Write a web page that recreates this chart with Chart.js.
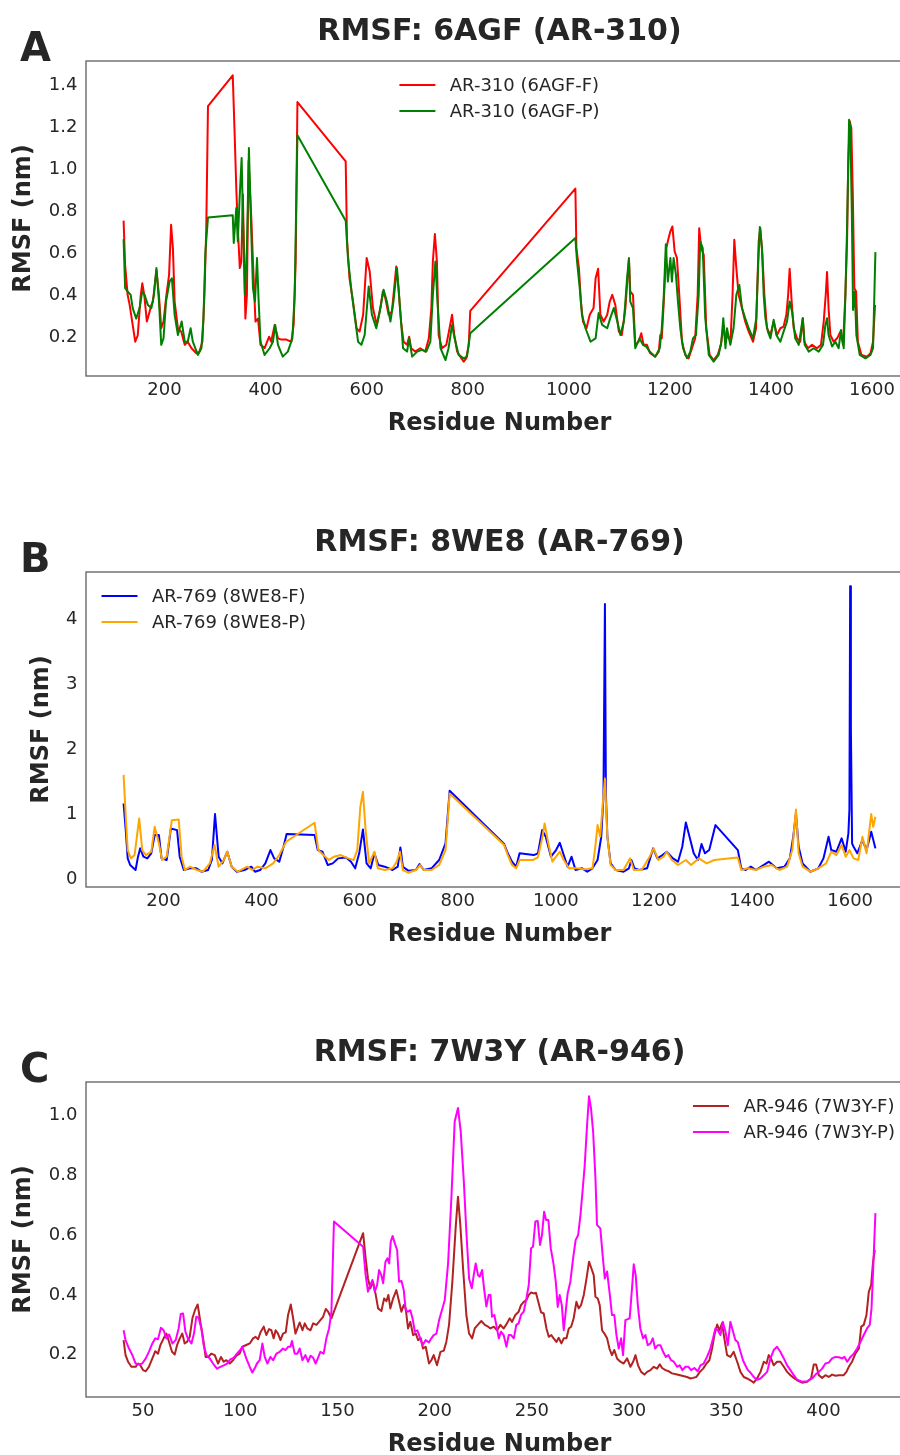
<!DOCTYPE html>
<html>
<head>
<meta charset="utf-8">
<script src="https://cdn.jsdelivr.net/npm/chart.js@4.4.0/dist/chart.umd.min.js"></script>
<style>
html, body { margin: 0; padding: 0; background: #fff; overflow: hidden; }
#page { position: relative; width: 900px; height: 1455px; overflow: hidden; }
canvas { position: absolute; left: 0; }
</style>
</head>
<body>
<div id="page">
  <canvas id="chartA" width="920" height="440" style="top:0px"></canvas>
  <canvas id="chartB" width="920" height="440" style="top:511px"></canvas>
  <canvas id="chartC" width="920" height="440" style="top:1021px"></canvas>
</div>
<script>
// ---- panel A: 6AGF (AR-310) ----
var resA_F = [119,122,127,131,137,142,147,153,156,160,165,169,174,177,184,189,193.5,198,203,209,213,216.6,220,226.5,233,240,246,253,263,269,275,279,282.6,286,335,339,342,345,349,352,355,360,363,366.4,372,375,380,385,390,398,407,411,418,424.5,431,441,451,455.5,459.5,463,558.5,561,566,573,580,586,593,600,606,612.4,620,627,632,637,643.4,650,658.6,663,668,673,680,684,688,696,706,716,723,728,731,735,739,742.4,749,757.6,764,769,773.4,779,785.3,792,797,802,805,1013,1015,1020,1024,1028,1035,1041.4,1049,1053,1058,1062.5,1069,1076,1081,1086,1092,1099,1105,1112,1119,1121.6,1127,1131.5,1138,1143.4,1148,1154.6,1161,1171,1178,1181,1184,1188,1193,1197.5,1201,1205,1209.4,1214,1218.6,1224,1230.5,1237,1243.7,1250,1255,1258,1262,1267,1272,1278.7,1286.6,1294.5,1301,1306,1310,1314.3,1320,1324,1327.5,1331.5,1336,1342.7,1349,1356,1364.5,1370.5,1375.7,1379,1383,1387,1392,1399,1405.4,1412,1418.6,1425,1430.5,1434,1437,1441,1445,1451.6,1458,1463,1466,1473,1481.3,1491,1499,1504.4,1508.4,1511,1514,1517.6,1524,1531,1537.4,1542.7,1547.3,1550.6,1553,1556,1559,1562,1565,1568.5,1572,1579,1590,1597,1602,1606];
var rmsfA_F = [0.756,0.546,0.403,0.355,0.26,0.18,0.21,0.403,0.458,0.40,0.276,0.31,0.355,0.37,0.52,0.40,0.244,0.276,0.387,0.498,0.736,0.625,0.371,0.244,0.228,0.165,0.18,0.15,0.125,0.133,0.18,0.403,0.72,1.30,1.447,1.149,0.91,0.72,0.53,0.56,0.88,0.29,0.403,1.04,0.752,0.56,0.276,0.29,0.165,0.15,0.204,0.18,0.26,0.196,0.19,0.19,0.18,0.26,0.56,1.32,1.038,0.67,0.482,0.371,0.244,0.228,0.308,0.578,0.514,0.34,0.26,0.34,0.419,0.387,0.308,0.324,0.538,0.435,0.276,0.18,0.165,0.204,0.149,0.133,0.149,0.133,0.196,0.34,0.562,0.692,0.562,0.212,0.149,0.165,0.244,0.308,0.212,0.133,0.109,0.085,0.101,0.165,0.327,0.908,0.625,0.53,0.371,0.276,0.244,0.308,0.34,0.482,0.527,0.308,0.276,0.308,0.371,0.403,0.355,0.228,0.212,0.34,0.578,0.419,0.403,0.165,0.18,0.22,0.165,0.165,0.125,0.109,0.133,0.212,0.196,0.371,0.625,0.673,0.705,0.728,0.61,0.578,0.403,0.18,0.117,0.101,0.149,0.196,0.403,0.72,0.625,0.593,0.244,0.117,0.093,0.117,0.165,0.26,0.18,0.212,0.18,0.403,0.665,0.53,0.403,0.34,0.276,0.228,0.18,0.244,0.657,0.72,0.593,0.403,0.244,0.212,0.276,0.212,0.244,0.252,0.308,0.403,0.527,0.371,0.244,0.196,0.18,0.292,0.18,0.149,0.165,0.149,0.165,0.276,0.403,0.511,0.34,0.212,0.18,0.196,0.228,0.165,0.403,0.657,1.038,1.228,1.197,0.879,0.435,0.419,0.18,0.117,0.109,0.125,0.18,0.355];
var resA_P = [119,122,127,133,137,144,150.6,156,160.5,167,174,179,184,189,193.5,198,203,210,214.6,220,226.5,234,240,246,251.6,256,266,273,277,281,286,335,337,342,345,348.6,352.6,355,359,363,367,371,375,379,383,386,390,398,408,414.6,419,424.5,434,444,453,457.5,463,558.5,563,570,576,583,589.5,596,604,610.4,619,626,633.5,640,647,653,660,667,672,680,684,690,700,709.4,718,726,731,736,740,746,756,762,769,774,782,792,798.5,805,1013,1016.3,1021.6,1026,1033,1043,1053,1059,1066,1076,1082,1089,1096,1102,1109,1115.3,1119,1121.6,1127,1131.5,1140,1146.7,1153,1160,1171,1180,1184,1188,1192,1196,1201,1204,1207.4,1212,1216,1220.6,1226,1234,1240.4,1245.7,1251.6,1257,1260,1265,1270,1277,1286.6,1296.5,1301.8,1305.7,1310,1313,1319.6,1326,1331.5,1337.4,1342.7,1349,1356,1364.5,1371,1375,1378,1382.3,1385.6,1389,1394,1399,1405.4,1410.7,1418.6,1425,1431.8,1437,1441.7,1448,1455,1463,1466.8,1474.7,1484.6,1494.5,1503,1507.7,1511,1514,1521,1527.5,1534,1538.7,1544,1547.3,1550.6,1554.6,1557,1560,1562.5,1566,1569,1575.7,1587,1597,1602,1606.7];
var rmsfA_P = [0.668,0.435,0.419,0.403,0.34,0.29,0.34,0.419,0.403,0.355,0.34,0.403,0.53,0.371,0.165,0.196,0.371,0.466,0.482,0.308,0.212,0.276,0.18,0.18,0.244,0.18,0.117,0.149,0.29,0.61,0.771,0.781,0.65,0.816,0.657,0.863,1.054,0.784,0.403,0.625,1.101,0.752,0.435,0.371,0.578,0.387,0.18,0.117,0.149,0.18,0.26,0.165,0.109,0.133,0.196,0.403,1.162,0.755,0.578,0.419,0.308,0.18,0.165,0.212,0.443,0.308,0.244,0.324,0.427,0.371,0.276,0.371,0.53,0.308,0.149,0.133,0.196,0.109,0.133,0.141,0.133,0.18,0.403,0.562,0.371,0.149,0.093,0.149,0.26,0.196,0.117,0.101,0.109,0.22,0.673,0.562,0.435,0.308,0.244,0.18,0.196,0.316,0.26,0.244,0.292,0.34,0.276,0.212,0.276,0.482,0.573,0.371,0.34,0.149,0.196,0.165,0.157,0.133,0.109,0.149,0.244,0.403,0.644,0.466,0.578,0.466,0.578,0.498,0.371,0.244,0.149,0.101,0.133,0.196,0.212,0.403,0.657,0.625,0.292,0.117,0.085,0.117,0.18,0.292,0.149,0.244,0.165,0.244,0.403,0.45,0.34,0.292,0.244,0.196,0.292,0.562,0.725,0.625,0.403,0.292,0.228,0.196,0.284,0.212,0.18,0.228,0.276,0.371,0.324,0.196,0.165,0.292,0.165,0.133,0.149,0.133,0.165,0.26,0.292,0.212,0.157,0.18,0.149,0.236,0.149,0.403,0.72,1.236,1.197,0.8,0.331,0.419,0.212,0.117,0.101,0.117,0.149,0.606];
var xTicksA = [200, 400, 600, 800, 1000, 1200, 1400, 1600];
var yTicksA = [0.2, 0.4, 0.6, 0.8, 1.0, 1.2, 1.4];

// ---- panel B: 8WE8 (AR-769) ----
var resB_F = [118.6,123,127,132,143,148,152.5,159,167,175,182,190.6,196,206.5,215,227.6,233,241.4,254,267,277.4,291,298.6,305,312.4,320,330,339,349.4,365,379,386.5,397,407.6,418,425.6,436,444.7,451,508,514.5,524,535,545,556,572,582.3,590.8,599,606.6,614,622.5,630,638,651,667,677.6,683,688,699,714.6,722,730.5,746.4,762,775,783.4,894.6,902,910.5,919,926,955,963.4,972,979.3,990,1000.4,1008,1016,1024,1032,1040,1053.4,1064,1074.6,1085,1092.5,1097,1100,1102,1105,1111.6,1122,1138,1149,1154,1160.3,1170,1186,1198.4,1207,1217.4,1226,1238.6,1249,1257.7,1265,1272.5,1281,1289.5,1297,1304,1312.7,1325.4,1371,1378,1387,1397.4,1408,1418.6,1434.5,1450,1466,1477,1484,1489.5,1495,1503,1519,1535,1545.6,1556,1561.5,1572,1582.6,1591,1596.4,1598.5,1600,1601.5,1604,1607,1614.5,1625,1633.5,1643,1651.5];
var rmsfB_F = [1.166,0.757,0.322,0.22,0.143,0.348,0.476,0.348,0.322,0.4,0.68,0.68,0.322,0.297,0.783,0.757,0.348,0.143,0.169,0.169,0.117,0.143,0.297,1.003,0.348,0.245,0.425,0.194,0.117,0.143,0.194,0.117,0.143,0.245,0.45,0.322,0.271,0.501,0.696,0.68,0.45,0.425,0.22,0.245,0.322,0.337,0.271,0.169,0.4,0.767,0.245,0.169,0.4,0.22,0.194,0.143,0.194,0.491,0.194,0.133,0.143,0.235,0.143,0.169,0.297,0.552,1.361,0.542,0.4,0.271,0.194,0.4,0.373,0.4,0.757,0.655,0.348,0.45,0.562,0.373,0.194,0.348,0.143,0.169,0.117,0.169,0.297,0.655,1.268,4.236,1.3,0.655,0.245,0.143,0.117,0.169,0.297,0.169,0.143,0.169,0.476,0.322,0.373,0.425,0.322,0.271,0.501,0.875,0.655,0.4,0.297,0.542,0.4,0.45,0.834,0.45,0.169,0.143,0.194,0.143,0.194,0.271,0.169,0.194,0.322,0.655,1.013,0.501,0.245,0.117,0.169,0.322,0.655,0.45,0.425,0.63,0.425,0.706,1.07,4.507,2.32,0.55,0.501,0.4,0.604,0.45,0.732,0.476];
var resB_P = [118.6,123,127,133.4,141,150.4,156.7,164,175,182,190.6,197,206.5,217,231,237,243.5,254,268,280.6,294.4,304,312.4,323,330,339,351.5,370.6,381,391.7,407.6,423.5,436,450,508,515.6,526,537,547.4,561,577,587.6,595,601.3,606.6,612,619.3,630,637,651,667,675.4,682,688,699,714.6,723,730.5,746.4,762,775,783.4,894.6,902,910.5,919,926,953,963.4,972,977,984.6,993,1000.4,1008,1016,1027,1043,1059,1074.6,1080,1085,1090.4,1095.7,1100,1105,1111.6,1122,1138,1151,1159,1175,1191,1199.4,1209,1219.6,1226,1236.5,1249,1265,1275.7,1291.6,1307.4,1323,1371,1378,1392,1408,1424,1440,1455.6,1471.5,1482,1489.5,1495,1503,1519,1535,1551,1561.5,1572,1582.6,1591,1598.5,1607,1616.6,1625,1633.5,1643,1647,1651.5];
var rmsfB_P = [1.606,0.962,0.45,0.322,0.373,0.936,0.45,0.373,0.425,0.808,0.552,0.297,0.348,0.91,0.92,0.348,0.143,0.194,0.143,0.117,0.245,0.527,0.194,0.297,0.425,0.194,0.117,0.194,0.143,0.194,0.169,0.245,0.373,0.578,0.87,0.45,0.373,0.297,0.348,0.373,0.322,0.297,0.45,1.115,1.345,0.757,0.245,0.425,0.169,0.143,0.169,0.271,0.425,0.143,0.102,0.143,0.22,0.143,0.143,0.22,0.45,1.32,0.527,0.373,0.22,0.169,0.297,0.297,0.337,0.63,0.859,0.552,0.271,0.348,0.425,0.297,0.169,0.169,0.153,0.169,0.476,0.834,0.655,1.166,1.55,0.655,0.22,0.143,0.143,0.322,0.143,0.143,0.348,0.476,0.297,0.348,0.425,0.297,0.22,0.297,0.22,0.322,0.245,0.297,0.337,0.143,0.169,0.143,0.194,0.22,0.143,0.194,0.45,1.074,0.4,0.194,0.117,0.169,0.245,0.425,0.373,0.527,0.348,0.45,0.322,0.297,0.655,0.4,1.003,0.808,0.962];
var xTicksB = [200, 400, 600, 800, 1000, 1200, 1400, 1600];
var yTicksB = [0, 1, 2, 3, 4];

// ---- panel C: 7W3Y (AR-946) ----
var resC_F = [40,41,42.3,44,46.2,47.4,48.6,50,51.4,53,54.8,56.3,57.7,58.9,60.6,62,63.4,64.9,66.3,67.5,68.9,70.2,71.4,72.6,74,75.4,76.7,78.1,79.5,80.9,82.2,83.6,85.1,86.9,88.6,90.1,91.5,92.9,94.6,96.3,98,99.7,101.1,102.8,104.9,106.6,107.9,109.2,110.4,112.1,113.4,114.8,116,117.2,118.2,119.4,120.7,122,123.4,124.6,126,127.2,128.4,129.4,130.6,132,133.2,134.5,136.1,137.5,139.2,140.9,142.6,144,145.2,146.9,163.2,164.5,165.7,166.9,168.3,169.7,170.9,172.6,174,175.2,176.2,177.2,178.6,180.3,181.5,182.9,184.1,185.1,186.3,187.5,188.9,190.3,191.5,192.9,194,195.4,197.1,198.3,199.5,201.2,203,204.7,206,207.4,209.1,210.9,212,213.2,214.6,216.3,217.7,219.3,220.6,222.3,224,225.8,227.5,228.7,230.4,232.1,233.8,235.5,237.2,238.6,239.8,241.5,243.2,244.4,245.8,247.2,248.4,249.6,251,252.1,253.5,254.7,256.1,257.5,258.7,260,261.2,262.6,263.8,265.2,266.4,267.8,269,270.2,271.5,272.9,274.1,275.3,276.7,278,279.4,280.6,281.8,282.7,283.9,284.9,286.1,287.3,288.7,289.9,291.2,292.4,293.8,295.5,297.2,299,300.7,302.1,303.3,304.6,306.2,307.9,309.3,311,312.7,314.4,315.8,317,318.7,320.4,322.1,324.7,327.3,329.8,331.6,332.9,334.6,336.4,338.1,339.8,341.3,342.7,343.9,345.3,346.5,347.8,349,350.4,352.1,353.8,355.6,357.3,359,360.7,362.4,364.1,365.8,367.6,369.3,370.7,371.8,373,374.4,376.1,377.8,379.6,381.3,383,384.7,386.4,389,391.6,393.6,395,396.2,397.6,399.3,401,402.7,404.4,406.2,407.9,410.4,411.8,413,414.7,416.4,418.2,419.4,420.7,422.1,423.3,424.5,425.5,426.4];
var rmsfC_F = [0.249,0.199,0.177,0.16,0.16,0.171,0.165,0.149,0.145,0.16,0.188,0.212,0.204,0.232,0.255,0.271,0.243,0.21,0.201,0.232,0.255,0.271,0.238,0.243,0.26,0.322,0.349,0.368,0.31,0.255,0.193,0.193,0.204,0.199,0.171,0.193,0.177,0.182,0.171,0.182,0.197,0.204,0.227,0.232,0.238,0.255,0.26,0.252,0.275,0.294,0.266,0.286,0.282,0.255,0.282,0.271,0.249,0.271,0.275,0.333,0.368,0.322,0.271,0.288,0.308,0.282,0.305,0.288,0.282,0.305,0.3,0.313,0.327,0.353,0.344,0.322,0.606,0.522,0.455,0.422,0.444,0.4,0.355,0.346,0.388,0.379,0.4,0.355,0.388,0.416,0.383,0.344,0.366,0.355,0.288,0.31,0.266,0.271,0.249,0.255,0.221,0.227,0.171,0.182,0.199,0.165,0.21,0.214,0.243,0.3,0.444,0.634,0.728,0.634,0.489,0.333,0.271,0.255,0.288,0.301,0.313,0.3,0.294,0.288,0.294,0.282,0.3,0.288,0.305,0.322,0.31,0.333,0.344,0.366,0.377,0.383,0.4,0.408,0.405,0.407,0.372,0.342,0.338,0.288,0.26,0.266,0.255,0.243,0.257,0.238,0.255,0.255,0.288,0.294,0.322,0.377,0.355,0.366,0.4,0.45,0.511,0.489,0.466,0.394,0.388,0.366,0.282,0.271,0.255,0.221,0.199,0.216,0.188,0.177,0.171,0.188,0.16,0.177,0.199,0.165,0.143,0.134,0.143,0.149,0.16,0.154,0.168,0.156,0.149,0.145,0.138,0.134,0.13,0.126,0.121,0.123,0.126,0.143,0.154,0.171,0.182,0.221,0.266,0.301,0.282,0.305,0.255,0.199,0.193,0.21,0.177,0.143,0.126,0.121,0.115,0.107,0.121,0.143,0.177,0.171,0.199,0.188,0.165,0.177,0.177,0.16,0.143,0.132,0.123,0.115,0.107,0.11,0.121,0.168,0.168,0.132,0.123,0.132,0.126,0.134,0.13,0.132,0.132,0.143,0.16,0.177,0.204,0.221,0.294,0.3,0.333,0.41,0.433,0.511,0.55];
var resC_P = [40,41,42.8,44.5,46.2,47.9,49.6,51.4,53,54.8,56.3,57.7,59.2,60.6,62,63.4,65.1,66.8,68.3,69.4,70.6,71.8,73.1,74.9,76.2,77.4,78.6,80,81.2,82.6,84.3,86,88,89.8,91.5,93.2,94.9,96.6,98.3,100,101.1,103.1,104.9,106.2,107.4,108.6,110,111.4,112.6,114,115.5,116.9,118.6,120.3,122,123.4,124.6,125.8,126.6,128,129.4,130.6,132,133.5,134.9,136.2,137.5,138.8,140,141.2,142.9,144.3,145.7,146.9,148.2,163.2,164.5,165.7,166.9,168,169.2,170.4,171.4,172.6,173.5,174.7,175.7,176.6,177.4,178.4,179.5,180.7,181.7,182.9,184.1,185.1,186.3,187.5,188.6,189.8,191.1,192.3,193.7,195.4,197,198.3,199.5,200.9,202.3,203.5,205.2,206.9,208.6,210.3,212,213.4,215,216.3,217.7,219.1,220.1,221.1,222.3,223.2,224.4,225.4,226.6,227.8,228.7,229.5,230.7,231.7,233,234.1,235.5,236.9,238.1,239.3,240.7,242,243.2,244.4,245.8,247.2,248.4,249.6,250.6,251.8,253,254.2,255.2,256.3,257.3,258.5,259.7,261.1,262.3,263.3,264.3,265.4,266.4,267.4,268.4,269.8,271.2,272.5,273.8,275,276.2,277.2,278.4,279.4,280.4,281.5,282.7,283.5,285.2,286.4,287.5,288.7,290.1,291.2,292.4,293.5,294.7,295.9,296.9,298.1,299.3,300.3,301.5,302.4,303.4,304.5,305.8,307.2,308.4,309.6,311,312.2,313.4,314.7,316.1,317.5,318.9,320.2,321.6,323,324.7,326,327.4,329,330.5,331.9,333.6,335.3,336.7,338.4,340.1,341.8,343.2,344.4,345.6,347,348.2,349.6,350.8,352.1,353.5,354.7,355.9,357.3,358.6,359.8,361.1,362.4,364.1,365.8,367.6,369.3,371,372.7,374.4,376.1,377.8,379.6,381.3,383,384.7,386.4,389,391.6,394.1,395.9,397.6,399.3,401,402.7,404.4,406.2,407.9,409.6,410.8,412.2,413.9,415.6,417.3,419,420.7,422.4,423.8,424.7,425.5,426.7];
var rmsfC_P = [0.282,0.249,0.221,0.199,0.171,0.168,0.171,0.188,0.21,0.238,0.255,0.252,0.29,0.282,0.255,0.268,0.238,0.249,0.288,0.336,0.338,0.277,0.255,0.238,0.271,0.327,0.324,0.288,0.232,0.199,0.188,0.171,0.154,0.16,0.165,0.171,0.185,0.19,0.204,0.216,0.227,0.188,0.16,0.141,0.154,0.171,0.182,0.238,0.193,0.171,0.193,0.182,0.204,0.21,0.221,0.216,0.227,0.227,0.246,0.204,0.204,0.221,0.182,0.199,0.177,0.197,0.19,0.171,0.19,0.21,0.204,0.255,0.288,0.344,0.645,0.561,0.466,0.411,0.433,0.45,0.411,0.433,0.483,0.466,0.439,0.511,0.522,0.505,0.578,0.597,0.572,0.55,0.444,0.447,0.416,0.349,0.344,0.349,0.322,0.277,0.282,0.26,0.232,0.249,0.241,0.255,0.266,0.271,0.316,0.344,0.383,0.505,0.723,0.979,1.024,0.946,0.779,0.611,0.455,0.422,0.466,0.505,0.466,0.461,0.483,0.422,0.361,0.4,0.4,0.327,0.333,0.3,0.255,0.277,0.266,0.227,0.266,0.266,0.255,0.3,0.305,0.333,0.344,0.388,0.433,0.556,0.561,0.645,0.647,0.567,0.6,0.678,0.65,0.65,0.556,0.505,0.444,0.36,0.4,0.366,0.282,0.344,0.405,0.444,0.522,0.583,0.6,0.667,0.756,0.834,0.968,1.063,1.024,0.946,0.79,0.634,0.622,0.533,0.455,0.478,0.4,0.333,0.333,0.266,0.221,0.255,0.199,0.316,0.319,0.322,0.422,0.502,0.466,0.366,0.288,0.255,0.266,0.232,0.238,0.255,0.221,0.232,0.232,0.21,0.193,0.199,0.182,0.177,0.16,0.165,0.149,0.16,0.16,0.149,0.156,0.145,0.165,0.171,0.193,0.221,0.255,0.288,0.282,0.266,0.31,0.277,0.232,0.31,0.277,0.249,0.243,0.21,0.182,0.165,0.149,0.141,0.126,0.117,0.121,0.132,0.143,0.188,0.216,0.227,0.21,0.188,0.165,0.149,0.132,0.117,0.11,0.112,0.121,0.134,0.143,0.154,0.171,0.174,0.188,0.193,0.192,0.188,0.193,0.177,0.193,0.204,0.221,0.243,0.266,0.288,0.3,0.355,0.478,0.673];
var xTicksC = [50, 100, 150, 200, 250, 300, 350, 400];
var yTicksC = [0.2, 0.4, 0.6, 0.8, 1.0];

var TEXT = '#262626';
var LINE_W = 2;
Chart.defaults.font.family = "'DejaVu Sans', sans-serif";
Chart.defaults.color = TEXT;

function pts(res, vals) {
    return res.map(function (r, i) { return {x: r, y: vals[i]}; });
}

// matplotlib-like 5% margins around the data
function range(lists) {
    var all = [].concat.apply([], lists);
    var lo = Math.min.apply(null, all), hi = Math.max.apply(null, all);
    var m = (hi - lo) * 0.05;
    return [lo - m, hi + m];
}

// frame, panel letter, title and the legend drawn inside the axes
var panelDeco = {
    id: 'panelDeco',
    afterDraw: function (chart, args, opts) {
        var ctx = chart.ctx, a = chart.chartArea;
        ctx.save();
        ctx.strokeStyle = '#5f5f5f';
        ctx.lineWidth = 1.3;
        ctx.strokeRect(a.left, a.top, a.right - a.left, a.bottom - a.top);

        ctx.fillStyle = TEXT;
        ctx.textBaseline = 'alphabetic';
        ctx.font = "bold 40px 'DejaVu Sans'";
        ctx.textAlign = 'left';
        ctx.fillText(opts.letter, 20, a.top - 0.5);
        ctx.font = "bold 30px 'DejaVu Sans'";
        ctx.textAlign = 'center';
        ctx.fillText(opts.title, (a.left + a.right) / 2, a.top - 21.5);

        ctx.font = "18px 'DejaVu Sans'";
        ctx.textAlign = 'left';
        ctx.textBaseline = 'middle';
        var sets = chart.data.datasets;
        var maxW = 0;
        sets.forEach(function (d) { maxW = Math.max(maxW, ctx.measureText(d.label).width); });
        var total = 36 + 14.4 + maxW, x0;
        if (opts.legend === 'left') x0 = a.left + 15.5;
        else if (opts.legend === 'right') x0 = a.right - 18 - total;
        else x0 = (a.left + a.right) / 2 - total / 2;
        sets.forEach(function (d, i) {
            var y = a.top + 24 + i * 26;
            ctx.strokeStyle = d.borderColor;
            ctx.lineWidth = LINE_W;
            ctx.beginPath();
            ctx.moveTo(x0, y);
            ctx.lineTo(x0 + 36, y);
            ctx.stroke();
            ctx.fillText(d.label, x0 + 50.4, y + 1);
        });
        ctx.restore();
    }
};

function makePanel(id, cfg) {
    var xr = range([cfg.resF, cfg.resP]);
    var yr = range([cfg.valF, cfg.valP]);
    return new Chart(document.getElementById(id), {
        type: 'line',
        data: {
            datasets: [{
                label: cfg.labels[0],
                data: pts(cfg.resF, cfg.valF),
                borderColor: cfg.colors[0],
                borderWidth: LINE_W,
                order: 1
            }, {
                label: cfg.labels[1],
                data: pts(cfg.resP, cfg.valP),
                borderColor: cfg.colors[1],
                borderWidth: LINE_W,
                order: 0
            }]
        },
        options: {
            responsive: false,
            animation: false,
            layout: {padding: {top: 61, right: 7, left: 0, bottom: 0}},
            elements: {
                point: {radius: 0},
                line: {tension: 0, borderJoinStyle: 'round', fill: false}
            },
            plugins: {
                legend: {display: false},
                tooltip: {enabled: false},
                panelDeco: {letter: cfg.letter, title: cfg.title, legend: cfg.legendPos}
            },
            scales: {
                x: {
                    type: 'linear',
                    min: xr[0],
                    max: xr[1],
                    grid: {display: false, drawTicks: false},
                    border: {display: false},
                    ticks: {
                        font: {size: 18},
                        padding: 4,
                        maxRotation: 0,
                        autoSkip: false,
                        callback: function (v) { return String(v); }
                    },
                    afterBuildTicks: function (s) {
                        s.ticks = cfg.xTicks.map(function (v) { return {value: v}; });
                    },
                    afterFit: function (s) { s.height = 64; },
                    title: {
                        display: true,
                        text: 'Residue Number',
                        font: {size: 24, weight: 'bold'},
                        padding: {top: 0, bottom: 2}
                    }
                },
                y: {
                    min: yr[0],
                    max: yr[1],
                    grid: {display: false, drawTicks: false},
                    border: {display: false},
                    ticks: {
                        font: {size: 18},
                        padding: 8.5,
                        callback: function (v) { return cfg.yDigits ? v.toFixed(cfg.yDigits) : String(v); }
                    },
                    afterBuildTicks: function (s) {
                        s.ticks = cfg.yTicks.map(function (v) { return {value: v}; });
                    },
                    afterFit: function (s) { s.width = 86; },
                    title: {
                        display: true,
                        text: 'RMSF (nm)',
                        font: {size: 24, weight: 'bold'},
                        padding: {top: cfg.yTitlePad, bottom: 0}
                    }
                }
            }
        },
        plugins: [panelDeco]
    });
}

makePanel('chartA', {
    letter: 'A', title: 'RMSF: 6AGF (AR-310)', legendPos: 'center',
    labels: ['AR-310 (6AGF-F)', 'AR-310 (6AGF-P)'], colors: ['#ff0000', '#008000'],
    resF: resA_F, valF: rmsfA_F, resP: resA_P, valP: rmsfA_P,
    xTicks: xTicksA, yTicks: yTicksA, yDigits: 1, yTitlePad: 9.6
});
makePanel('chartB', {
    letter: 'B', title: 'RMSF: 8WE8 (AR-769)', legendPos: 'left',
    labels: ['AR-769 (8WE8-F)', 'AR-769 (8WE8-P)'], colors: ['#0000ff', '#ffa500'],
    resF: resB_F, valF: rmsfB_F, resP: resB_P, valP: rmsfB_P,
    xTicks: xTicksB, yTicks: yTicksB, yDigits: 0, yTitlePad: 27.6
});
makePanel('chartC', {
    letter: 'C', title: 'RMSF: 7W3Y (AR-946)', legendPos: 'right',
    labels: ['AR-946 (7W3Y-F)', 'AR-946 (7W3Y-P)'], colors: ['#b22222', '#ff00ff'],
    resF: resC_F, valF: rmsfC_F, resP: resC_P, valP: rmsfC_P,
    xTicks: xTicksC, yTicks: yTicksC, yDigits: 1, yTitlePad: 9.6
});
</script>
</body>
</html>
